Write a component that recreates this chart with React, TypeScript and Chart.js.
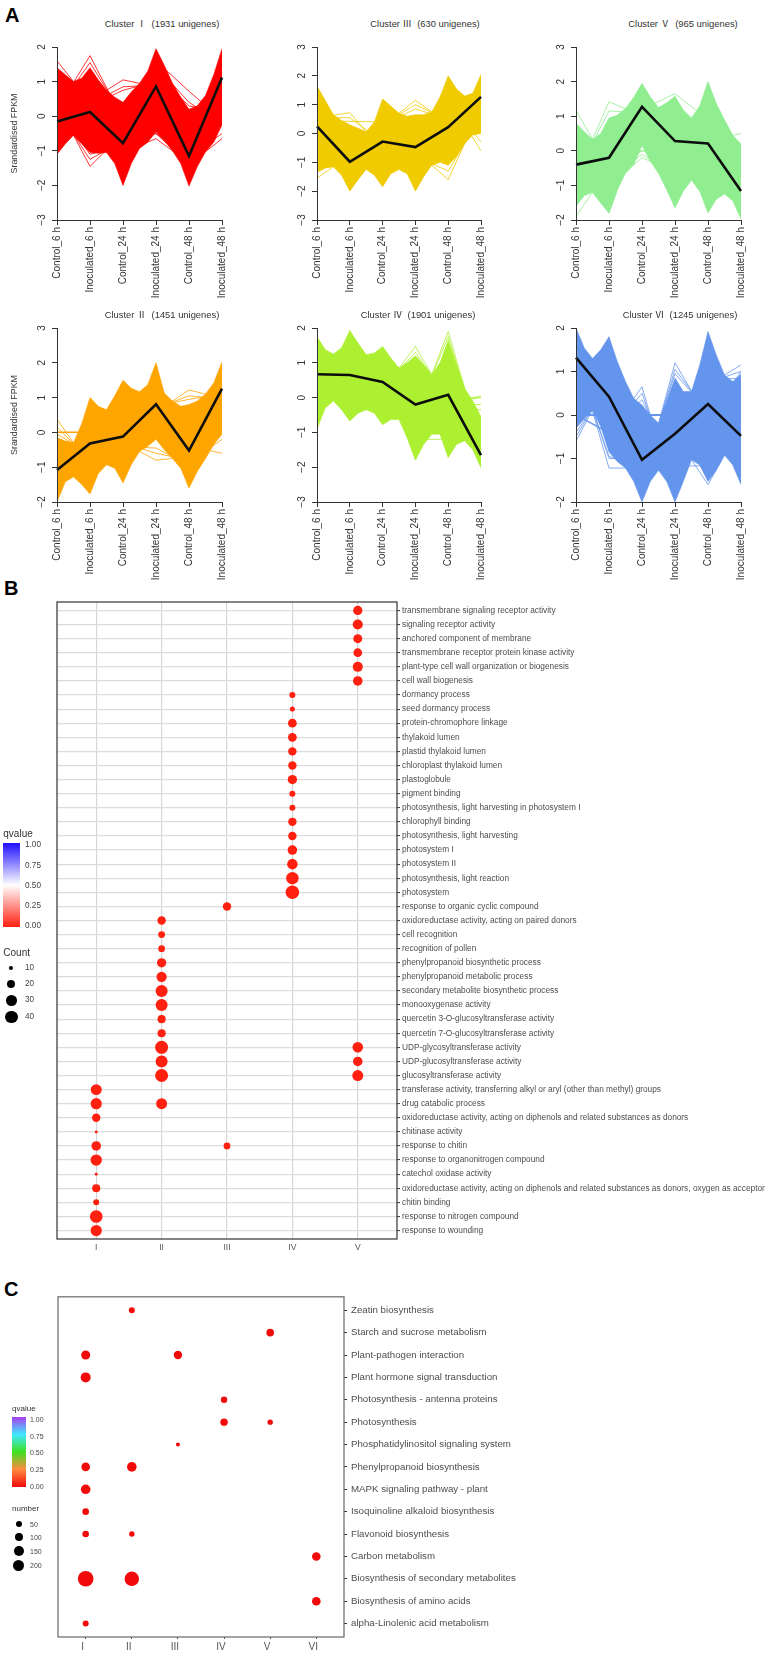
import React, { useEffect, useRef } from "react";
import { Chart, registerables } from "chart.js";

Chart.register(...registerables);

const SANS = '"Liberation Sans", Arial, sans-serif';
const TITLE_FONT = '"Liberation Sans", "Noto Sans CJK SC", sans-serif';

/* ---------- Panel A data ---------- */
const timePoints = ["Control_6 h", "Inoculated_6 h", "Control_24 h", "Inoculated_24 h", "Control_48 h", "Inoculated_48 h"];
const meanX = [0, 1, 2, 3, 4, 5];
const envelopeX = [0, 0.25, 0.5, 0.75, 1, 1.25, 1.5, 1.75, 2, 2.25, 2.5, 2.75, 3, 3.25, 3.5, 3.75, 4, 4.25, 4.5, 4.75, 5];

const mean1 = [-0.15, 0.12, -0.78, 0.86, -1.15, 1.12];
const upper1 = [1.4, 1.2, 1.0, 1.1, 1.4, 1.05, 0.75, 0.55, 0.4, 0.7, 0.95, 1.3, 1.95, 1.47, 0.95, 0.55, 0.2, 0.3, 0.6, 1.2, 1.95];
const lower1 = [-1.1, -0.8, -0.55, -0.8, -1.05, -1.07, -1.05, -1.37, -2.0, -1.37, -0.93, -0.75, -0.45, -0.7, -1.0, -1.37, -2.02, -1.46, -1.03, -0.75, -0.25];
const fringe1 = [
  [1.6, 0.4, -0.5, 0.8, -1, 0.5], [0.2, 1.75, -0.1, 0.6, -1, 0.5], [0.2, 1.55, 0.0, 0.7, -1, 0.5],
  [-0.5, 0.45, 1.05, 0.85, -1, 0.5], [-0.5, 0.35, 0.85, 0.9, -1, 0.5], [-0.5, 0.3, 0.75, 1.0, -1, 0.5],
  [-0.3, 0, 0.2, 1.6, 0.72, -0.1], [-0.3, 0, 0, 1.45, 0.4, -0.2], [-0.3, 0, 0, 1.2, 0.3, 0.1],
  [0.35, -1.45, -0.5, 0, 0, 0], [0.2, -1.25, -0.7, 0, 0, 0], [0.2, -1.1, -0.85, 0, 0, 0],
  [0, 0, -1.05, -0.65, -1.35, 0], [0, 0, -0.9, -0.5, -1.2, 0],
  [0, 0, 0, -0.5, -1.4, -0.65], [0, 0, 0, -0.5, -1.2, -0.5],
];

const mean3 = [0.25, -0.98, -0.28, -0.47, 0.22, 1.27];
const upper3 = [1.65, 1.15, 0.65, 0.45, 0.3, 0.18, 0.06, 0.4, 1.2, 0.95, 0.7, 0.6, 0.65, 0.65, 0.75, 1.27, 2.0, 1.55, 1.3, 1.4, 2.05];
const lower3 = [-1.35, -1.2, -1.15, -1.45, -2.0, -1.6, -1.25, -1.45, -1.85, -1.4, -1.25, -1.4, -2.0, -1.5, -1.1, -1.0, -1.1, -0.8, -0.35, -0.05, 0.0];
const fringe3 = [
  [0.55, 0.72, -0.6, 0.2, 0, 1], [0.55, 0.55, -0.3, 0.2, 0, 1], [0.45, 0.42, 0.4, 0.3, 0, 1],
  [0, -0.3, 0.25, 1.15, 0.35, 1], [0, -0.3, 0.3, 1.0, 0.45, 1], [0, -0.3, 0.3, 0.85, 0.5, 1],
  [0, -0.5, -0.5, -0.6, -1.6, 0.9], [0, -0.5, -0.5, -0.8, -1.3, 0.6],
  [0, 0, 0, 0, 1.2, -0.6], [0, 0, 0, 0, 1.2, -0.3], [-1.55, -0.75, 0, 0, 0, 1],
];

const mean5 = [-0.4, -0.2, 1.27, 0.28, 0.21, -1.16];
const upper5 = [0.8, 0.55, 0.33, 0.5, 0.95, 1.03, 1.22, 1.55, 1.95, 1.56, 1.25, 1.39, 1.58, 1.18, 0.95, 1.3, 2.0, 1.37, 0.9, 0.45, 0.2];
const lower5 = [-1.6, -1.3, -1.2, -1.5, -1.8, -1.13, -0.65, -0.4, 0.15, -0.3, -0.65, -1.13, -1.65, -1.17, -0.85, -1.17, -1.8, -1.4, -1.25, -1.45, -1.97];
const fringe5 = [
  [1.17, -0.5, 0, 0, 0, 0], [-0.76, 1.42, 1.0, 0, 0, 0], [-0.7, 1.15, 1.1, 0, 0, 0],
  [-1.9, -0.5, 0, 0, 0, 0], [-0.6, -1.8, 0.88, 0, 0, 0],
  [0, 0, 0, 0.2, 0.3, 0.5], [0, -1, -0.2, -0.6, 0, 0], [0, -0.9, -0.1, -0.7, 0, 0],
  [0, 0, 1.2, 1.65, 0.9, 0],
];

const mean2 = [-1.08, -0.32, -0.12, 0.81, -0.52, 1.26];
const upper2 = [-0.15, -0.25, -0.3, 0.25, 1.0, 0.75, 0.65, 1.05, 1.5, 1.27, 1.17, 1.37, 2.0, 1.13, 0.9, 0.75, 0.8, 0.9, 1.1, 1.42, 2.02];
const lower2 = [-2.0, -1.42, -1.28, -1.5, -1.77, -1.18, -0.93, -1.03, -1.45, -0.93, -0.55, -0.4, -0.2, -0.5, -0.75, -1.03, -1.6, -1.12, -0.75, -0.35, -0.05];
const fringe2 = [
  [0.38, -0.98, 0, 0, 0, 0], [0.15, -0.8, 0, 0, 0, 0], [-0.05, -0.6, 0, 0, 0, 0],
  [0, 0, -0.3, -0.8, -0.7, 0], [0, 0, -0.3, -0.6, -0.8, 0], [0, 0, -0.4, -0.45, -0.95, 0],
  [0, 0, 0.5, 0.58, 1.22, 0.98], [0, 0, 0.5, 0.7, 1.05, 0.95], [0, 0, 0.5, 0.75, 0.95, 1.1],
  [0, 0, 0, 0, -0.4, -0.6], [0, 0, 0, 0, -0.9, -0.2],
];

const mean4 = [0.67, 0.65, 0.45, -0.2, 0.08, -1.65];
const upper4 = [1.75, 1.38, 1.25, 1.43, 1.93, 1.57, 1.23, 1.28, 1.47, 1.14, 0.85, 1.0, 1.2, 0.95, 0.66, 1.0, 1.65, 0.95, 0.27, -0.1, -0.55];
const lower4 = [-0.9, -0.3, -0.1, -0.35, -0.67, -0.45, -0.35, -0.45, -0.78, -0.63, -0.63, -1.16, -1.8, -1.35, -1.05, -1.05, -1.73, -1.35, -1.24, -1.5, -2.02];
const fringe4 = [
  [0, 0, 0.23, 1.47, -0.15, 0], [0, 0, 0.3, 1.3, -0.05, 0],
  [0, 0, 0, -0.58, 1.9, -1.36], [0, 0, 0, -0.5, 1.75, -1.3],
  [0, 0, 0, 0, -0.15, 0.05], [0, 0, 0, 0, -0.2, -0.2], [0, 0, 0, 0, -0.3, -0.35],
  [0, 0, 0, -1.2, -1.2, -0.7],
];

const mean6 = [1.32, 0.42, -1.03, -0.43, 0.25, -0.48];
const upper6 = [2.0, 1.54, 1.3, 1.5, 1.8, 1.23, 0.77, 0.38, 0.23, 0, -0.19, 0.33, 0.85, 0.54, 0.54, 1.15, 1.92, 1.38, 0.92, 0.77, 0.92];
const lower6 = [-0.3, -0.08, 0.12, -0.27, -0.85, -1.07, -1.22, -1.53, -2.0, -1.53, -1.27, -1.53, -2.0, -1.53, -1.03, -1.15, -1.53, -1.27, -0.92, -1.15, -1.6];
const fringe6 = [
  [-0.6, 0.84, 0, 0, 0, 0], [-0.5, 0.8, 0, 0, 0, 0], [-0.4, 0.7, 0, 0, 0, 0], [-0.3, 0.6, 0, 0, 0, 0],
  [1.4, -1.22, -1.22, 0, 0, 0], [1.3, -1.0, -1.0, 0, 0, 0], [1.2, -0.95, -1.25, 0, 0, 0],
  [0, -0.43, 0.65, -1.95, 0, 0], [0, -0.4, 0.5, -1.7, 0, 0], [0, -0.4, 0.35, -1.2, 0, 0],
  [0, 0, -1.6, 1.2, -0.1, 1.0], [0, 0, -1.5, 1.05, 0.05, 0.95], [0, 0, -1.4, 0.95, 0.1, 0.85],
  [0, 0, 0, 0, 0.69, 1.15], [0, 0, 0, 0, 0.75, 1.0], [0, 0, 0, 0, 0.8, 0.85],
  [0, 0, 0, -0.46, -1.6, -0.24], [0, 0, 0, -1.17, -1.17, 0], [0, 0, 0, -0.7, -1.25, -0.5],
];

/* ---------- Panel B data ---------- */
const goTerms = [
  "transmembrane signaling receptor activity", "signaling receptor activity", "anchored component of membrane",
  "transmembrane receptor protein kinase activity", "plant-type cell wall organization or biogenesis", "cell wall biogenesis",
  "dormancy process", "seed dormancy process", "protein-chromophore linkage", "thylakoid lumen", "plastid thylakoid lumen",
  "chloroplast thylakoid lumen", "plastoglobule", "pigment binding", "photosynthesis, light harvesting in photosystem I",
  "chlorophyll binding", "photosynthesis, light harvesting", "photosystem I", "photosystem II", "photosynthesis, light reaction",
  "photosystem", "response to organic cyclic compound", "oxidoreductase activity, acting on paired donors", "cell recognition",
  "recognition of pollen", "phenylpropanoid biosynthetic process", "phenylpropanoid metabolic process",
  "secondary metabolite biosynthetic process", "monooxygenase activity", "quercetin 3-O-glucosyltransferase activity",
  "quercetin 7-O-glucosyltransferase activity", "UDP-glycosyltransferase activity", "UDP-glucosyltransferase activity",
  "glucosyltransferase activity", "transferase activity, transferring alkyl or aryl (other than methyl) groups",
  "drug catabolic process", "oxidoreductase activity, acting on diphenols and related substances as donors", "chitinase activity",
  "response to chitin", "response to organonitrogen compound", "catechol oxidase activity",
  "oxidoreductase activity, acting on diphenols and related substances as donors, oxygen as acceptor", "chitin binding",
  "response to nitrogen compound", "response to wounding",
];
const goClusters = ["I", "II", "III", "IV", "V"];
const goRows1 = [35, 36, 37, 38, 39, 40, 41, 42, 43, 44, 45];
const goCount1 = [31, 32, 21, 9, 25, 33, 9, 20, 14, 39, 32];
const goRows2 = [23, 24, 25, 26, 27, 28, 29, 30, 31, 32, 33, 34, 36];
const goCount2 = [21, 16, 16, 24, 28, 36, 36, 20, 20, 41, 36, 41, 31];
const goRows3 = [22, 39];
const goCount3 = [21, 16];
const goRows4 = [7, 8, 9, 10, 11, 12, 13, 14, 15, 16, 17, 18, 19, 20, 21];
const goCount4 = [14, 12, 22, 22, 21, 21, 24, 14, 14, 21, 21, 25, 29, 38, 44];
const goRows5 = [1, 2, 3, 4, 5, 6, 32, 33, 34];
const goCount5 = [24, 27, 23, 22, 27, 25, 29, 25, 31];
const goLegendCounts = [10, 20, 30, 40];
const qTicks = ["1.00", "0.75", "0.50", "0.25", "0.00"];

/* ---------- Panel C data ---------- */
const pathways = [
  "Zeatin biosynthesis", "Starch and sucrose metabolism", "Plant-pathogen interaction", "Plant hormone signal transduction",
  "Photosynthesis - antenna proteins", "Photosynthesis", "Phosphatidylinositol signaling system", "Phenylpropanoid biosynthesis",
  "MAPK signaling pathway - plant", "Isoquinoline alkaloid biosynthesis", "Flavonoid biosynthesis", "Carbon metabolism",
  "Biosynthesis of secondary metabolites", "Biosynthesis of amino acids", "alpha-Linolenic acid metabolism",
];
const keggClusters = ["I", "II", "III", "IV", "V", "VI"];
const keggRows1 = [3, 4, 8, 9, 10, 11, 13, 15];
const keggNum1 = [122, 157, 109, 143, 56, 56, 437, 43];
const keggRows2 = [1, 8, 11, 13];
const keggNum2 = [43, 143, 32, 365];
const keggRows3 = [3, 7];
const keggNum3 = [103, 13];
const keggRows4 = [5, 6];
const keggNum4 = [51, 75];
const keggRows5 = [2, 6];
const keggNum5 = [80, 32];
const keggRows6 = [12, 14];
const keggNum6 = [109, 109];
const keggLegendNums = [50, 100, 150, 200];

/* ---------- helpers ---------- */
const goRadius = (c: number) => 0.4 + 6.45 * Math.sqrt(Math.max(0, c - 8) / 37);
const keggRadius = (n: number) => 0.8 + 0.335 * Math.sqrt(n);

const offAll = { legend: { display: false }, tooltip: { enabled: false }, title: { display: false } };

const framePlugin = (color: string, w: number) => ({
  id: "frame",
  afterDatasetsDraw(chart: any) {
    const { ctx, chartArea: a } = chart;
    ctx.save();
    ctx.strokeStyle = color;
    ctx.lineWidth = w;
    ctx.strokeRect(a.left, a.top, a.right - a.left, a.bottom - a.top);
    ctx.restore();
  },
});

function ChartCanvas({ rect, config }: { rect: { left: number; top: number; width: number; height: number }; config: () => any }) {
  const ref = useRef<HTMLCanvasElement>(null);
  useEffect(() => {
    const chart = new Chart(ref.current as HTMLCanvasElement, config());
    return () => chart.destroy();
  }, []);
  return (
    <canvas
      ref={ref}
      width={rect.width}
      height={rect.height}
      style={{ position: "absolute", left: rect.left, top: rect.top, width: rect.width, height: rect.height, display: "block" }}
    />
  );
}

function clusterConfig(p: any) {
  const { color, mean, upper, lower, fringe, min, max, yTitle } = p;
  const env = (vals: number[]) => vals.map((y, i) => ({ x: envelopeX[i], y }));
  const six = (vals: number[]) => vals.map((y, i) => ({ x: meanX[i], y }));
  return {
    type: "line",
    data: {
      datasets: [
        { data: six(mean), borderColor: "#0d0d0d", borderWidth: 2.6, pointRadius: 0, fill: false, clip: false },
        ...fringe.map((f: number[]) => ({ data: six(f), borderColor: color, borderWidth: 0.8, pointRadius: 0, fill: false })),
        { data: env(upper), borderColor: color, backgroundColor: color, borderWidth: 0.6, pointRadius: 0, fill: "+1" },
        { data: env(lower), borderColor: color, borderWidth: 0.6, pointRadius: 0, fill: false },
      ],
    },
    options: {
      responsive: false,
      animation: false,
      devicePixelRatio: 1,
      events: [],
      elements: { line: { tension: 0 } },
      layout: { autoPadding: false, padding: { top: 20, right: 8, bottom: 0, left: 0 } },
      plugins: offAll,
      scales: {
        x: {
          type: "linear",
          min: 0,
          max: 5,
          afterFit: (s: any) => { s.height = 90; },
          afterBuildTicks: (s: any) => { s.ticks = meanX.map((value) => ({ value })); },
          grid: { drawOnChartArea: false, drawTicks: true, tickLength: 5, tickColor: "#333", tickWidth: 1 },
          border: { color: "#333", width: 1, z: 1 },
          ticks: {
            minRotation: 90, maxRotation: 90, autoSkip: false, padding: 2, color: "#333",
            font: { family: SANS, size: 10 },
            callback: (v: number) => timePoints[v],
          },
        },
        y: {
          type: "linear",
          min, max,
          afterFit: (s: any) => { s.width = 57; },
          grid: { drawOnChartArea: false, drawTicks: true, tickLength: 5, tickColor: "#333", tickWidth: 1 },
          border: { color: "#333", width: 1, z: 1 },
          title: yTitle
            ? { display: true, text: "Srandardised FPKM", color: "#333", font: { family: SANS, size: 8.9 }, padding: { top: 9, bottom: 0 } }
            : { display: false },
          ticks: {
            stepSize: 1, minRotation: 90, maxRotation: 90, crossAlign: "center", padding: 4, color: "#333",
            font: { family: SANS, size: 10 },
            callback: (v: number) => String(v).replace("-", "\u2212"),
          },
        },
      },
    },
  };
}

function cols(rowsList: number[][], valList: number[][], radius: (v: number) => number, color: string) {
  return rowsList.map((rows, c) => ({
    data: rows.map((y, i) => ({ x: c + 1, y, r: radius(valList[c][i]) })),
    backgroundColor: color,
    borderWidth: 0,
  }));
}

function goConfig() {
  return {
    type: "bubble",
    data: {
      datasets: cols(
        [goRows1, goRows2, goRows3, goRows4, goRows5],
        [goCount1, goCount2, goCount3, goCount4, goCount5],
        goRadius,
        "#ff2010"
      ),
    },
    plugins: [framePlugin("#333", 1.2)],
    options: {
      responsive: false,
      animation: false,
      devicePixelRatio: 1,
      events: [],
      layout: { autoPadding: false, padding: { top: 8, right: 0, bottom: 0, left: 57 } },
      plugins: offAll,
      scales: {
        x: {
          type: "linear",
          min: 0.4,
          max: 5.6,
          afterFit: (s: any) => { s.height = 20; },
          afterBuildTicks: (s: any) => { s.ticks = goClusters.map((_, i) => ({ value: i + 1 })); },
          grid: { color: "#d6d6d6", lineWidth: 1.2, drawTicks: false },
          border: { display: false },
          ticks: { padding: 4, color: "#555", maxRotation: 0, font: { family: SANS, size: 8.5 }, callback: (v: number) => goClusters[v - 1] },
        },
        y: {
          type: "linear",
          position: "right",
          reverse: true,
          min: 0.4,
          max: 45.6,
          afterFit: (s: any) => { s.width = 768 - 397; },
          afterBuildTicks: (s: any) => { s.ticks = goTerms.map((_, i) => ({ value: i + 1 })); },
          grid: { color: "#dcdcdc", lineWidth: 1.2, tickColor: "#333", tickLength: 3, tickWidth: 1 },
          border: { display: false },
          ticks: { padding: 2, autoSkip: false, color: "#4d4d4d", font: { family: SANS, size: 8.3 }, callback: (v: number) => goTerms[v - 1] },
        },
      },
    },
  };
}

function keggConfig() {
  return {
    type: "bubble",
    data: {
      datasets: cols(
        [keggRows1, keggRows2, keggRows3, keggRows4, keggRows5, keggRows6],
        [keggNum1, keggNum2, keggNum3, keggNum4, keggNum5, keggNum6],
        keggRadius,
        "#f20a0a"
      ),
    },
    plugins: [framePlugin("#666", 1.2)],
    options: {
      responsive: false,
      animation: false,
      devicePixelRatio: 1,
      events: [],
      layout: { autoPadding: false, padding: { top: 8, right: 0, bottom: 0, left: 58 } },
      plugins: offAll,
      scales: {
        x: {
          type: "linear",
          min: 0.4,
          max: 6.6,
          afterFit: (s: any) => { s.height = 16; },
          afterBuildTicks: (s: any) => { s.ticks = keggClusters.map((_, i) => ({ value: i + 1 })); },
          grid: { drawOnChartArea: false, tickLength: 2, tickColor: "#555", tickWidth: 1 },
          border: { display: false },
          ticks: { padding: 2, color: "#555", maxRotation: 0, labelOffset: -3, font: { family: SANS, size: 10 }, callback: (v: number) => keggClusters[v - 1] },
        },
        y: {
          type: "linear",
          position: "right",
          reverse: true,
          min: 0.4,
          max: 15.6,
          afterFit: (s: any) => { s.width = 768 - 344; },
          afterBuildTicks: (s: any) => { s.ticks = pathways.map((_, i) => ({ value: i + 1 })); },
          grid: { drawOnChartArea: false, tickColor: "#333", tickLength: 3, tickWidth: 1 },
          border: { display: false },
          ticks: { padding: 4, autoSkip: false, color: "#4d4d4d", font: { family: SANS, size: 9.7 }, callback: (v: number) => pathways[v - 1] },
        },
      },
    },
  };
}

const clusters = [
  { label: "Cluster \u2160  (1931 unigenes)", tx: 162, ty: 24, color: "#ff0000", mean: mean1, upper: upper1, lower: lower1, fringe: fringe1, min: -3, max: 2, yTitle: true, plot: [57, 47, 228, 220] },
  { label: "Cluster \u2162  (630 unigenes)", tx: 425, ty: 24, color: "#efcb00", mean: mean3, upper: upper3, lower: lower3, fringe: fringe3, min: -3, max: 3, yTitle: false, plot: [317, 47, 487, 220] },
  { label: "Cluster \u2164  (965 unigenes)", tx: 683, ty: 24, color: "#90ee90", mean: mean5, upper: upper5, lower: lower5, fringe: fringe5, min: -2, max: 3, yTitle: false, plot: [576, 47, 747, 220] },
  { label: "Cluster \u2161  (1451 unigenes)", tx: 162, ty: 315, color: "#ffa500", mean: mean2, upper: upper2, lower: lower2, fringe: fringe2, min: -2, max: 3, yTitle: true, plot: [57, 328, 228, 502] },
  { label: "Cluster \u2163  (1901 unigenes)", tx: 418, ty: 315, color: "#adf032", mean: mean4, upper: upper4, lower: lower4, fringe: fringe4, min: -3, max: 2, yTitle: false, plot: [317, 328, 487, 502] },
  { label: "Cluster \u2165  (1245 unigenes)", tx: 680, ty: 315, color: "#6495ed", mean: mean6, upper: upper6, lower: lower6, fringe: fringe6, min: -2, max: 2, yTitle: false, plot: [576, 328, 747, 502] },
];

function Txt({ x, y, size, children, color = "#333", center = false, bold = false, family = SANS }: any) {
  return (
    <div
      style={{
        position: "absolute", left: x, top: y, whiteSpace: "pre", fontFamily: family, fontSize: size, lineHeight: 1,
        color, fontWeight: bold ? 700 : 400, transform: center ? "translate(-50%,-50%)" : "translateY(-50%)",
      }}
    >
      {children}
    </div>
  );
}

function Dot({ x, y, r }: { x: number; y: number; r: number }) {
  return <div style={{ position: "absolute", left: x - r, top: y - r, width: 2 * r, height: 2 * r, borderRadius: "50%", background: "#000" }} />;
}

const goLegendY = [967.7, 983.7, 1000.3, 1017];
const goQY = [845.3, 865.7, 885.7, 906, 926];
const keggLegendY = [1523.7, 1537.3, 1551.3, 1565.3];
const keggQY = [1419, 1435.7, 1452.3, 1469, 1486];

export default function App() {
  return (
    <div style={{ position: "absolute", left: 0, top: 0, width: 768, height: 1653, background: "#fff", overflow: "hidden" }}>
      <Txt x={5} y={14.5} size={20} bold color="#000">A</Txt>
      <Txt x={4} y={587.5} size={20} bold color="#000">B</Txt>
      <Txt x={4} y={1288.5} size={20} bold color="#000">C</Txt>

      {clusters.map((c) => (
        <React.Fragment key={c.label}>
          <Txt x={c.tx} y={c.ty} size={9.4} center family={TITLE_FONT}>{c.label}</Txt>
          <ChartCanvas
            rect={{ left: c.plot[0] - 57, top: c.plot[1] - 20, width: c.plot[2] - c.plot[0] + 65, height: c.plot[3] - c.plot[1] + 110 }}
            config={() => clusterConfig(c)}
          />
        </React.Fragment>
      ))}

      <ChartCanvas rect={{ left: 0, top: 594, width: 768, height: 665 }} config={goConfig} />
      <Txt x={3.3} y={833.5} size={10}>qvalue</Txt>
      <div style={{ position: "absolute", left: 3, top: 843, width: 17, height: 84, background: "linear-gradient(to bottom,#2010ff 0%,#ffffff 50%,#ff2010 100%)" }} />
      {qTicks.map((t, i) => <Txt key={"gq" + t} x={25} y={goQY[i]} size={8.2} color="#444">{t}</Txt>)}
      <Txt x={3.3} y={952.5} size={10}>Count</Txt>
      {goLegendCounts.map((c, i) => (
        <React.Fragment key={"gc" + c}>
          <Dot x={11.3} y={goLegendY[i]} r={goRadius(c)} />
          <Txt x={25} y={goLegendY[i]} size={8.2} color="#444">{String(c)}</Txt>
        </React.Fragment>
      ))}

      <ChartCanvas rect={{ left: 0, top: 1287, width: 768, height: 366 }} config={keggConfig} />
      <Txt x={12} y={1409} size={8}>qvalue</Txt>
      <div style={{ position: "absolute", left: 12, top: 1417, width: 14, height: 70, background: "linear-gradient(to bottom,#a83ff0 0%,#40e8ff 25%,#3fe020 50%,#ff8a40 75%,#f20a0a 100%)" }} />
      {qTicks.map((t, i) => <Txt key={"kq" + t} x={30} y={keggQY[i]} size={7} color="#444">{t}</Txt>)}
      <Txt x={12} y={1508.7} size={8}>number</Txt>
      {keggLegendNums.map((n, i) => (
        <React.Fragment key={"kn" + n}>
          <Dot x={18.7} y={keggLegendY[i]} r={keggRadius(n)} />
          <Txt x={30} y={keggLegendY[i]} size={7} color="#444">{String(n)}</Txt>
        </React.Fragment>
      ))}
    </div>
  );
}
